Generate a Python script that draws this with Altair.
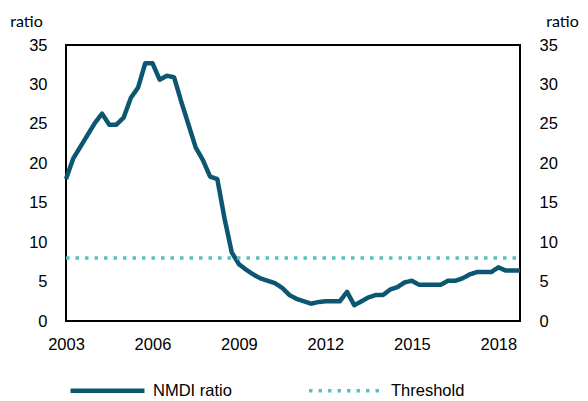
import altair as alt
import pandas as pd

years = list(range(2003, 2019))
nmdi = [
    18.0, 20.6, 22.1, 23.6,
    25.1, 26.3, 24.9, 24.9,
    25.8, 28.3, 29.6, 32.7,
    32.7, 30.6, 31.1, 30.9,
    27.8, 24.9, 22.0, 20.4,
    18.3, 18.0, 13.0, 8.7,
    7.2, 6.5, 5.9, 5.4,
    5.1, 4.8, 4.2, 3.3,
    2.8, 2.5, 2.2, 2.4,
    2.5, 2.5, 2.5, 3.7,
    2.0, 2.5, 3.0, 3.3,
    3.3, 4.0, 4.3, 4.9,
    5.1, 4.6, 4.6, 4.6,
    4.6, 5.1, 5.1, 5.4,
    5.9, 6.2, 6.2, 6.2,
    6.8, 6.4, 6.4, 6.4,
]
threshold = 8
series_names = ["NMDI ratio", "Threshold"]
x_ticks = [2003, 2006, 2009, 2012, 2015, 2018]
y_ticks = [0, 5, 10, 15, 20, 25, 30, 35]

t = [y + q / 4 for y in years for q in range(4)]
rows = []
for ti, v in zip(t, nmdi):
    rows.append({"t": ti, "value": v, "series": series_names[0]})
for ti in t:
    rows.append({"t": ti, "value": threshold, "series": series_names[1]})
df = pd.DataFrame(rows)

FONT = "Liberation Sans"

def xenc():
    return alt.X("t:Q", scale=alt.Scale(domain=[2003, 2018.75], nice=False, zero=False),
                 axis=alt.Axis(values=x_ticks, format="d", title=None, grid=False, domain=False,
                               ticks=False, labelPadding=15, labelFont=FONT, labelFontSize=16.5,
                               labelColor="black", labelFlush=False))

yscale = alt.Scale(domain=[0, 35], nice=False)

def leg():
    return alt.Legend(title=None, orient="none", legendX=2, legendY=306,
                      direction="horizontal", symbolType="stroke",
                      symbolSize=5476, labelFont=FONT, labelFontSize=16.5,
                      labelColor="black", columnPadding=70, labelOffset=6,
                      padding=0)

lines = alt.Chart(df).mark_line(strokeCap="butt", strokeJoin="round").encode(
    x=xenc(),
    y=alt.Y("value:Q", scale=yscale,
            axis=alt.Axis(values=y_ticks, title="ratio", titleAngle=0, titleX=-40, titleY=-24,
                          titleAlign="center", titleBaseline="middle", titleFont="Lato",
                          titleFontSize=16, titleFontWeight="normal", titleColor="black",
                          grid=False, domain=False, ticks=False, labelPadding=19,
                          labelFont=FONT, labelFontSize=16.5, labelColor="black")),
    color=alt.Color("series:N", scale=alt.Scale(domain=series_names, range=["#0c5672", "#56c3c0"]),
                    legend=leg()),
    strokeDash=alt.StrokeDash("series:N", scale=alt.Scale(domain=series_names, range=[[1, 0], [3.5, 6]]),
                              legend=leg()),
    strokeWidth=alt.StrokeWidth("series:N", scale=alt.Scale(domain=series_names, range=[4.5, 3.5]),
                                legend=leg()),
)

right_axis = alt.Chart(df).mark_line(opacity=0).encode(
    x=xenc(),
    y=alt.Y("value:Q", scale=yscale,
            axis=alt.Axis(orient="right", values=y_ticks, title="ratio", titleAngle=0, titleX=42,
                          titleY=-24, titleAlign="center", titleBaseline="middle", titleFont="Lato",
                          titleFontSize=16, titleFontWeight="normal", titleColor="black",
                          grid=False, domain=False, ticks=False, labelPadding=19,
                          labelFont=FONT, labelFontSize=16.5, labelColor="black")),
)

chart = alt.layer(lines, right_axis).resolve_scale(y="independent").properties(
    width=454, height=276,
    autosize=alt.AutoSizeParams(type="none"),
    padding={"left": 58, "top": 37, "right": 60, "bottom": 78},
    background="white",
).configure_view(stroke="black", strokeWidth=2)

chart.save("out.html", embed_options={"renderer": "svg", "actions": False})
